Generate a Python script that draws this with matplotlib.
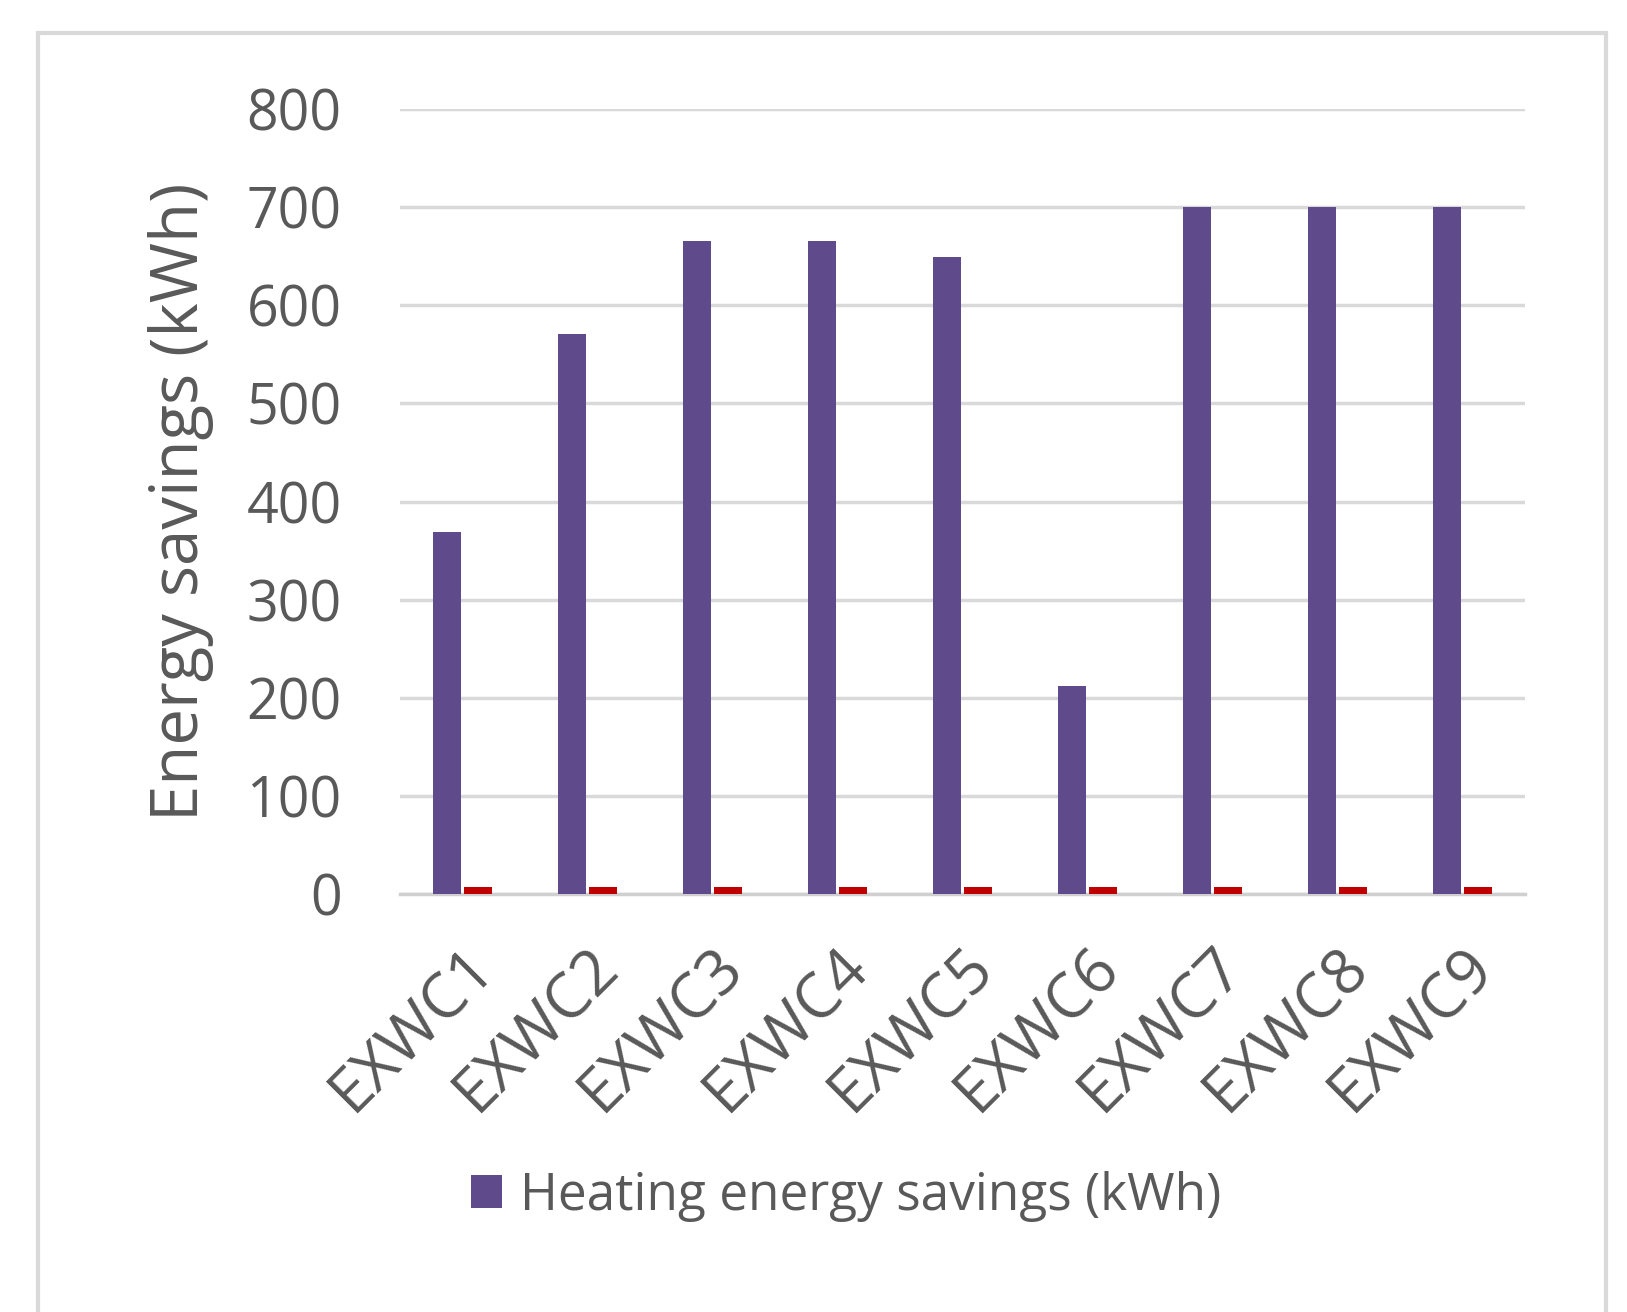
import matplotlib
matplotlib.use("Agg")
import matplotlib.pyplot as plt
from matplotlib.patches import Rectangle
import numpy as np

# データ
categories = ["EXWC1", "EXWC2", "EXWC3", "EXWC4", "EXWC5", "EXWC6", "EXWC7", "EXWC8", "EXWC9"]
heating_savings = [369, 571, 666, 666, 649, 212, 700, 700, 700]
other_savings = [7, 7, 7, 7, 7, 7, 7, 7, 7]
y_ticks = [0, 100, 200, 300, 400, 500, 600, 700, 800]

plt.rcParams['font.family'] = ['Open Sans', 'DejaVu Sans']
TEXT_GRAY = "#595959"

fig = plt.figure(figsize=(16.27, 13.12), dpi=100)
ax = fig.add_axes([0.2459, 0.3186, 0.6914, 0.5983])

# 外枠
fig.patches.append(Rectangle((38 / 1627, -0.05), (1606 - 38) / 1627, 1 - 33 / 1312 + 0.05,
                             transform=fig.transFigure, fill=False,
                             edgecolor="#d9d9d9", linewidth=3))

x = np.arange(len(categories))
w = 0.22
ax.bar(x - 0.125, heating_savings, width=w, color="#5f4b8b",
       label="Heating energy savings (kWh)", zorder=3)
ax.bar(x + 0.125, other_savings, width=w, color="#c00000", zorder=3)

ax.set_xlim(-0.5, len(categories) - 0.5)
ax.set_ylim(0, 800)
ax.set_yticks(y_ticks)
ax.yaxis.grid(True, color="#d9d9d9", linewidth=2.5, zorder=0)
ax.set_axisbelow(True)
for s in ["top", "right", "left"]:
    ax.spines[s].set_visible(False)
ax.spines["bottom"].set_color("#d0d0d0")
ax.spines["bottom"].set_linewidth(2.5)
ax.tick_params(axis="y", length=0, labelsize=40, colors=TEXT_GRAY, pad=42)
ax.tick_params(axis="x", length=0, labelsize=45, colors=TEXT_GRAY, pad=30)
ax.set_xticks(x)
ax.set_xticklabels(categories, rotation=45, ha="right", rotation_mode="anchor")
ax.set_ylabel("Energy savings (kWh)", fontsize=47, color=TEXT_GRAY)
ax.yaxis.set_label_coords(-0.165, 0.5)

fig.legend(loc="center", bbox_to_anchor=(0.52, 1 - 1196 / 1312), frameon=False,
           fontsize=37, labelcolor=TEXT_GRAY, handlelength=0.6, handleheight=0.6,
           handletextpad=0.35)

fig.savefig("out.png", dpi=100)
